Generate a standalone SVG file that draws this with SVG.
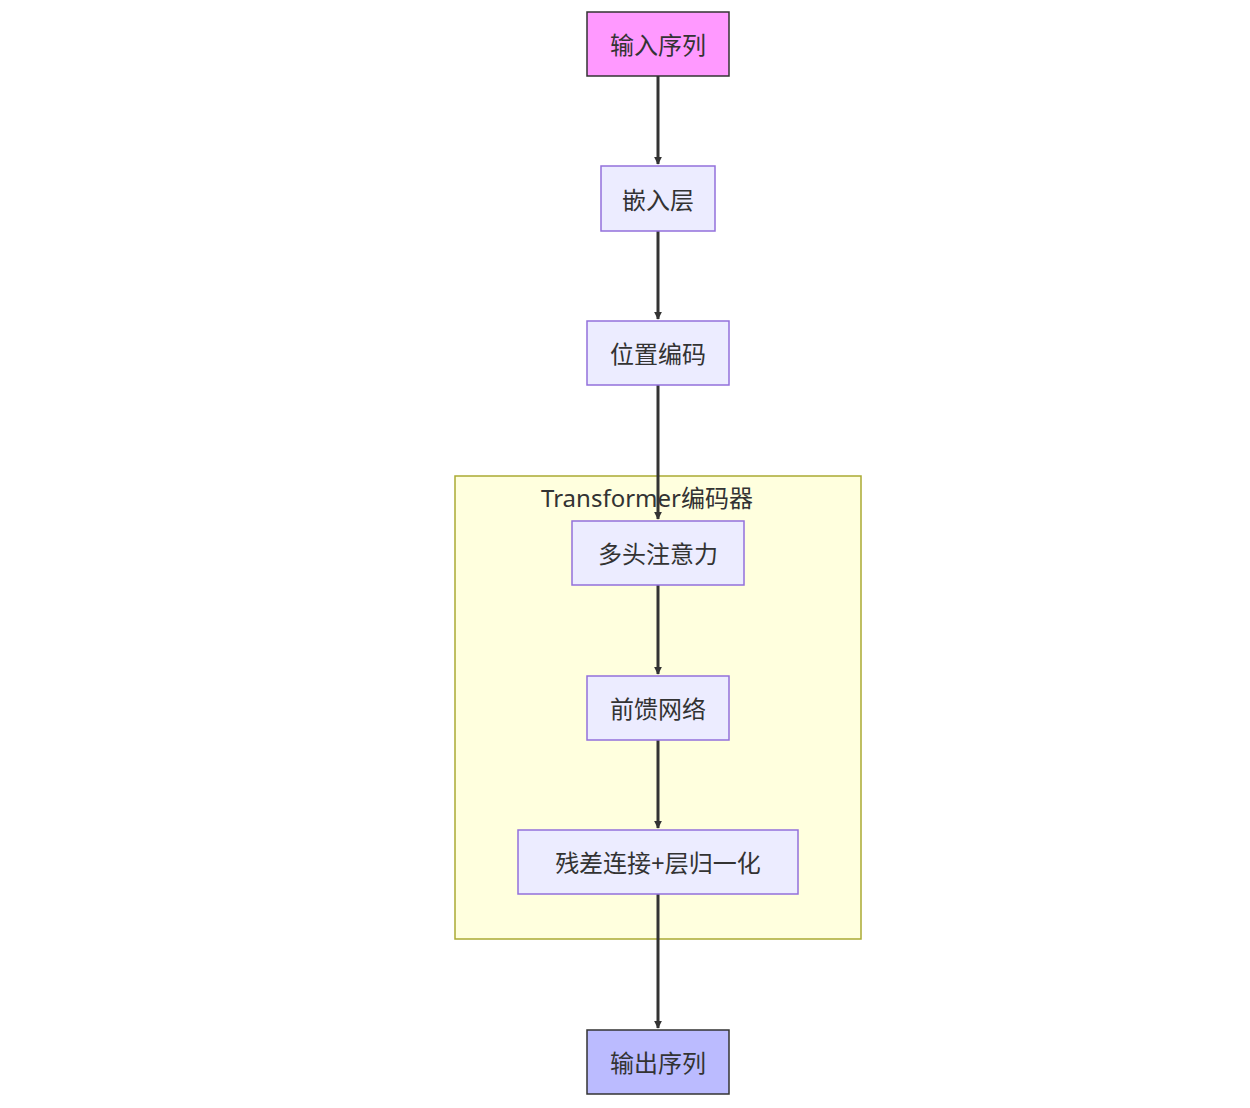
<svg xmlns="http://www.w3.org/2000/svg" width="1250" height="1108" viewBox="0 0 1250 1108">
<style>
.n{fill:#ececff;stroke:#9370db;stroke-width:1.5}
.t{font-family:"Noto Sans","Noto Sans CJK SC",sans-serif;font-size:24px;fill:#333;text-anchor:middle;dominant-baseline:central}
.e{stroke:#333;stroke-width:3;fill:none;marker-end:url(#a)}
</style>
<defs><marker id="a" viewBox="0 0 10 10" refX="9" refY="5" markerWidth="8" markerHeight="8" markerUnits="userSpaceOnUse" orient="auto"><path d="M0,0L10,5L0,10z" fill="#333"/></marker></defs>
<rect width="1250" height="1108" fill="#fff"/>
<g id="cluster"><rect x="455" y="476" width="406" height="463" fill="#ffffde" stroke="#aaaa33" stroke-width="1.5"/><text class="t" x="647" y="497">Transformer编码器</text></g>
<g id="edges">
<line class="e" x1="658" y1="76" x2="658" y2="164"/>
<line class="e" x1="658" y1="231" x2="658" y2="319"/>
<line class="e" x1="658" y1="385" x2="658" y2="519"/>
<line class="e" x1="658" y1="585" x2="658" y2="674"/>
<line class="e" x1="658" y1="740" x2="658" y2="828"/>
<line class="e" x1="658" y1="894" x2="658" y2="1028"/>
</g>
<g id="in"><rect x="587" y="12" width="142" height="64" fill="#f9f" stroke="#333" stroke-width="1.5"/><text class="t" x="658" y="44">输入序列</text></g>
<g id="emb"><rect class="n" x="601" y="166" width="114" height="65"/><text class="t" x="658" y="199">嵌入层</text></g>
<g id="pos"><rect class="n" x="587" y="321" width="142" height="64"/><text class="t" x="658" y="353">位置编码</text></g>
<g id="mha"><rect class="n" x="572" y="521" width="172" height="64"/><text class="t" x="658" y="553">多头注意力</text></g>
<g id="ffn"><rect class="n" x="587" y="676" width="142" height="64"/><text class="t" x="658" y="708">前馈网络</text></g>
<g id="res"><rect class="n" x="518" y="830" width="280" height="64"/><text class="t" x="658" y="862">残差连接+层归一化</text></g>
<g id="out"><rect x="587" y="1030" width="142" height="64" fill="#bbf" stroke="#333" stroke-width="1.5"/><text class="t" x="658" y="1062">输出序列</text></g>
</svg>
